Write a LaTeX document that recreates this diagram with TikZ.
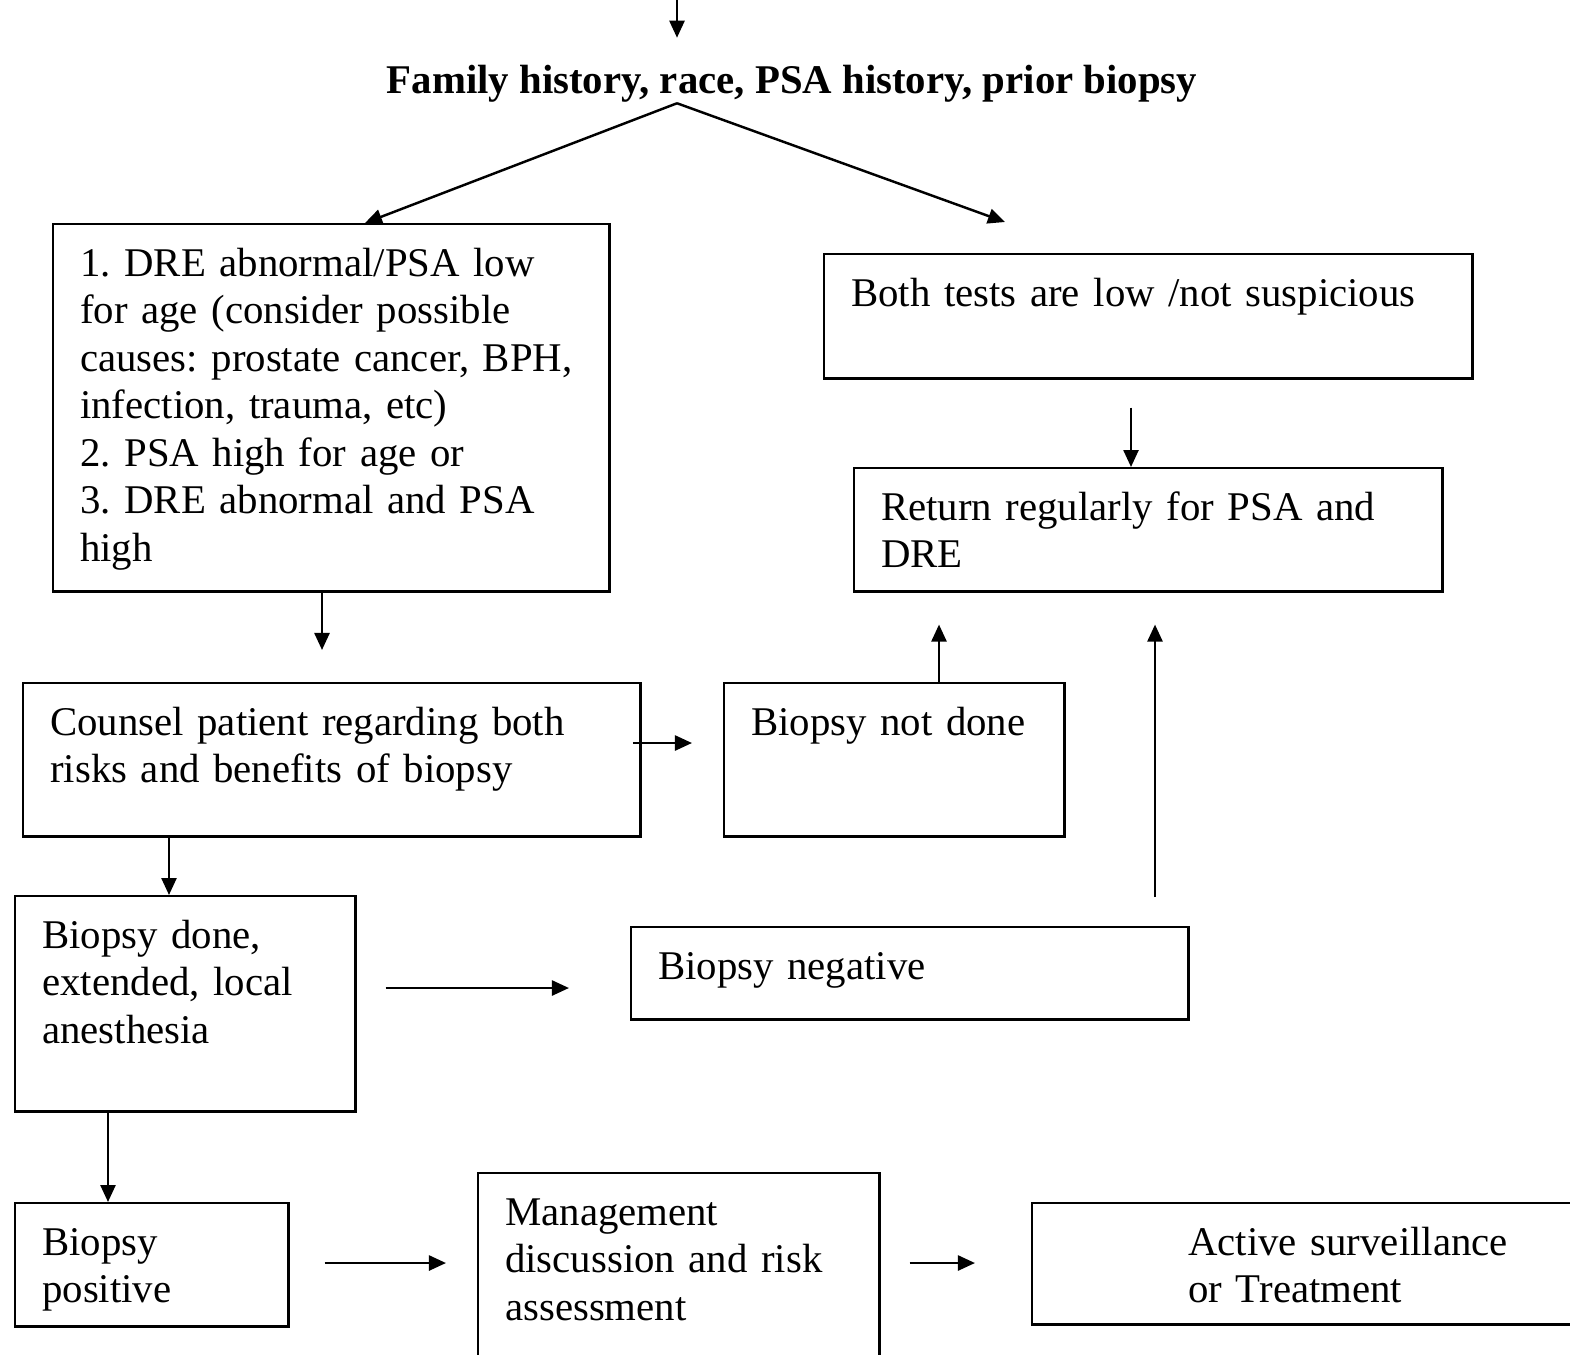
\documentclass[tikz,border=0pt]{standalone}
\usepackage{fontspec}
\setmainfont{Liberation Serif}
\frenchspacing
\usetikzlibrary{arrows.meta}
\begin{document}
\begin{tikzpicture}
    [x=0.01cm,y=-0.01cm,
     every node/.style={font=\fontsize{11.6pt}{13.5pt}\selectfont},
     box/.style={draw,line width=0.7pt,anchor=north west,align=left,
       inner xsep=0.27cm,inner ysep=0.2cm,text height=0.32cm},
     arr/.style={-{Triangle[length=0.17cm,width=0.15cm]},line width=0.7pt}]
    \useasboundingbox (0,0) rectangle (1570,1354);
    \clip (0,0) rectangle (1570,1354);
    \node[font=\bfseries\fontsize{11.6pt}{13.5pt}\selectfont,inner sep=0pt] (hist) at (792,84)
      {Family history, race, PSA history, prior biopsy};
    \node[box,text width=5.02cm,text depth=2.95cm] (risk) at (52,223)
      {1. DRE abnormal/PSA low\\for age (consider possible\\causes: prostate cancer, BPH,\\infection, trauma, etc)\\2. PSA high for age or\\3. DRE abnormal and PSA\\high};
    \node[box,text width=5.94cm,text depth=0.52cm] (both) at (823,253) {Both tests are low /not suspicious};
    \node[box,text width=5.34cm,text depth=0.51cm] (ret) at (853,467) {Return regularly for PSA and\\DRE};
    \node[box,text width=5.63cm,text depth=0.81cm] (counsel) at (22,682)
      {Counsel patient regarding both\\risks and benefits of biopsy};
    \node[box,text width=2.86cm,text depth=0.81cm] (notdone) at (723,682) {Biopsy not done};
    \node[box,text width=2.86cm,text depth=1.43cm] (done) at (14,895) {Biopsy done,\\extended, local\\anesthesia};
    \node[box,text width=5.03cm,text depth=0.20cm] (neg) at (630,926) {Biopsy negative};
    \node[box,text width=2.19cm,text depth=0.51cm] (pos) at (14,1202) {Biopsy\\positive};
    \node[box,text width=3.47cm,text depth=1.28cm] (mgmt) at (477,1172) {Management\\discussion and risk\\assessment};
    \node[box,text width=4.95cm,text depth=0.49cm] (active) at (1031,1202)
      {\hspace*{1.29cm}Active surveillance\\\hspace*{1.29cm}or Treatment};

    \coordinate (in) at (677,0);
    \coordinate (bothin) at (1005,222);
    \draw[arr,shorten >=0.27cm] (in) -- (in |- hist.north);
    \draw[arr] (hist.south -| in) -- (risk.north -| 365,0);
    \draw[arr] (hist.south -| in) -- (bothin);
    \draw[arr,shorten <=0.28cm] (both.south -| 1131,0) -- (ret.north -| 1131,0);
    \draw[arr,shorten >=0.32cm] (risk.south -| 322,0) -- (counsel.north -| 322,0);
    \draw[arr,shorten <=-0.09cm,shorten >=0.31cm] (counsel.east |- 0,743) -- (notdone.west |- 0,743);
    \draw[arr,shorten >=0.32cm] (notdone.north -| 939,0) -- (ret.south -| 939,0);
    \draw[arr,shorten <=0.29cm,shorten >=0.32cm] (neg.north -| 1155,0) -- (ret.south -| 1155,0);
    \draw[arr] (counsel.south -| 169,0) -- (done.north -| 169,0);
    \draw[arr,shorten <=0.29cm,shorten >=0.61cm] (done.east |- 0,988) -- (neg.west |- 0,988);
    \draw[arr] (done.south -| 108,0) -- (pos.north -| 108,0);
    \draw[arr,shorten <=0.35cm,shorten >=0.31cm] (pos.east |- 0,1263) -- (mgmt.west |- 0,1263);
    \draw[arr,shorten <=0.29cm,shorten >=0.56cm] (mgmt.east |- 0,1263) -- (active.west |- 0,1263);
  \end{tikzpicture}
\end{document}
